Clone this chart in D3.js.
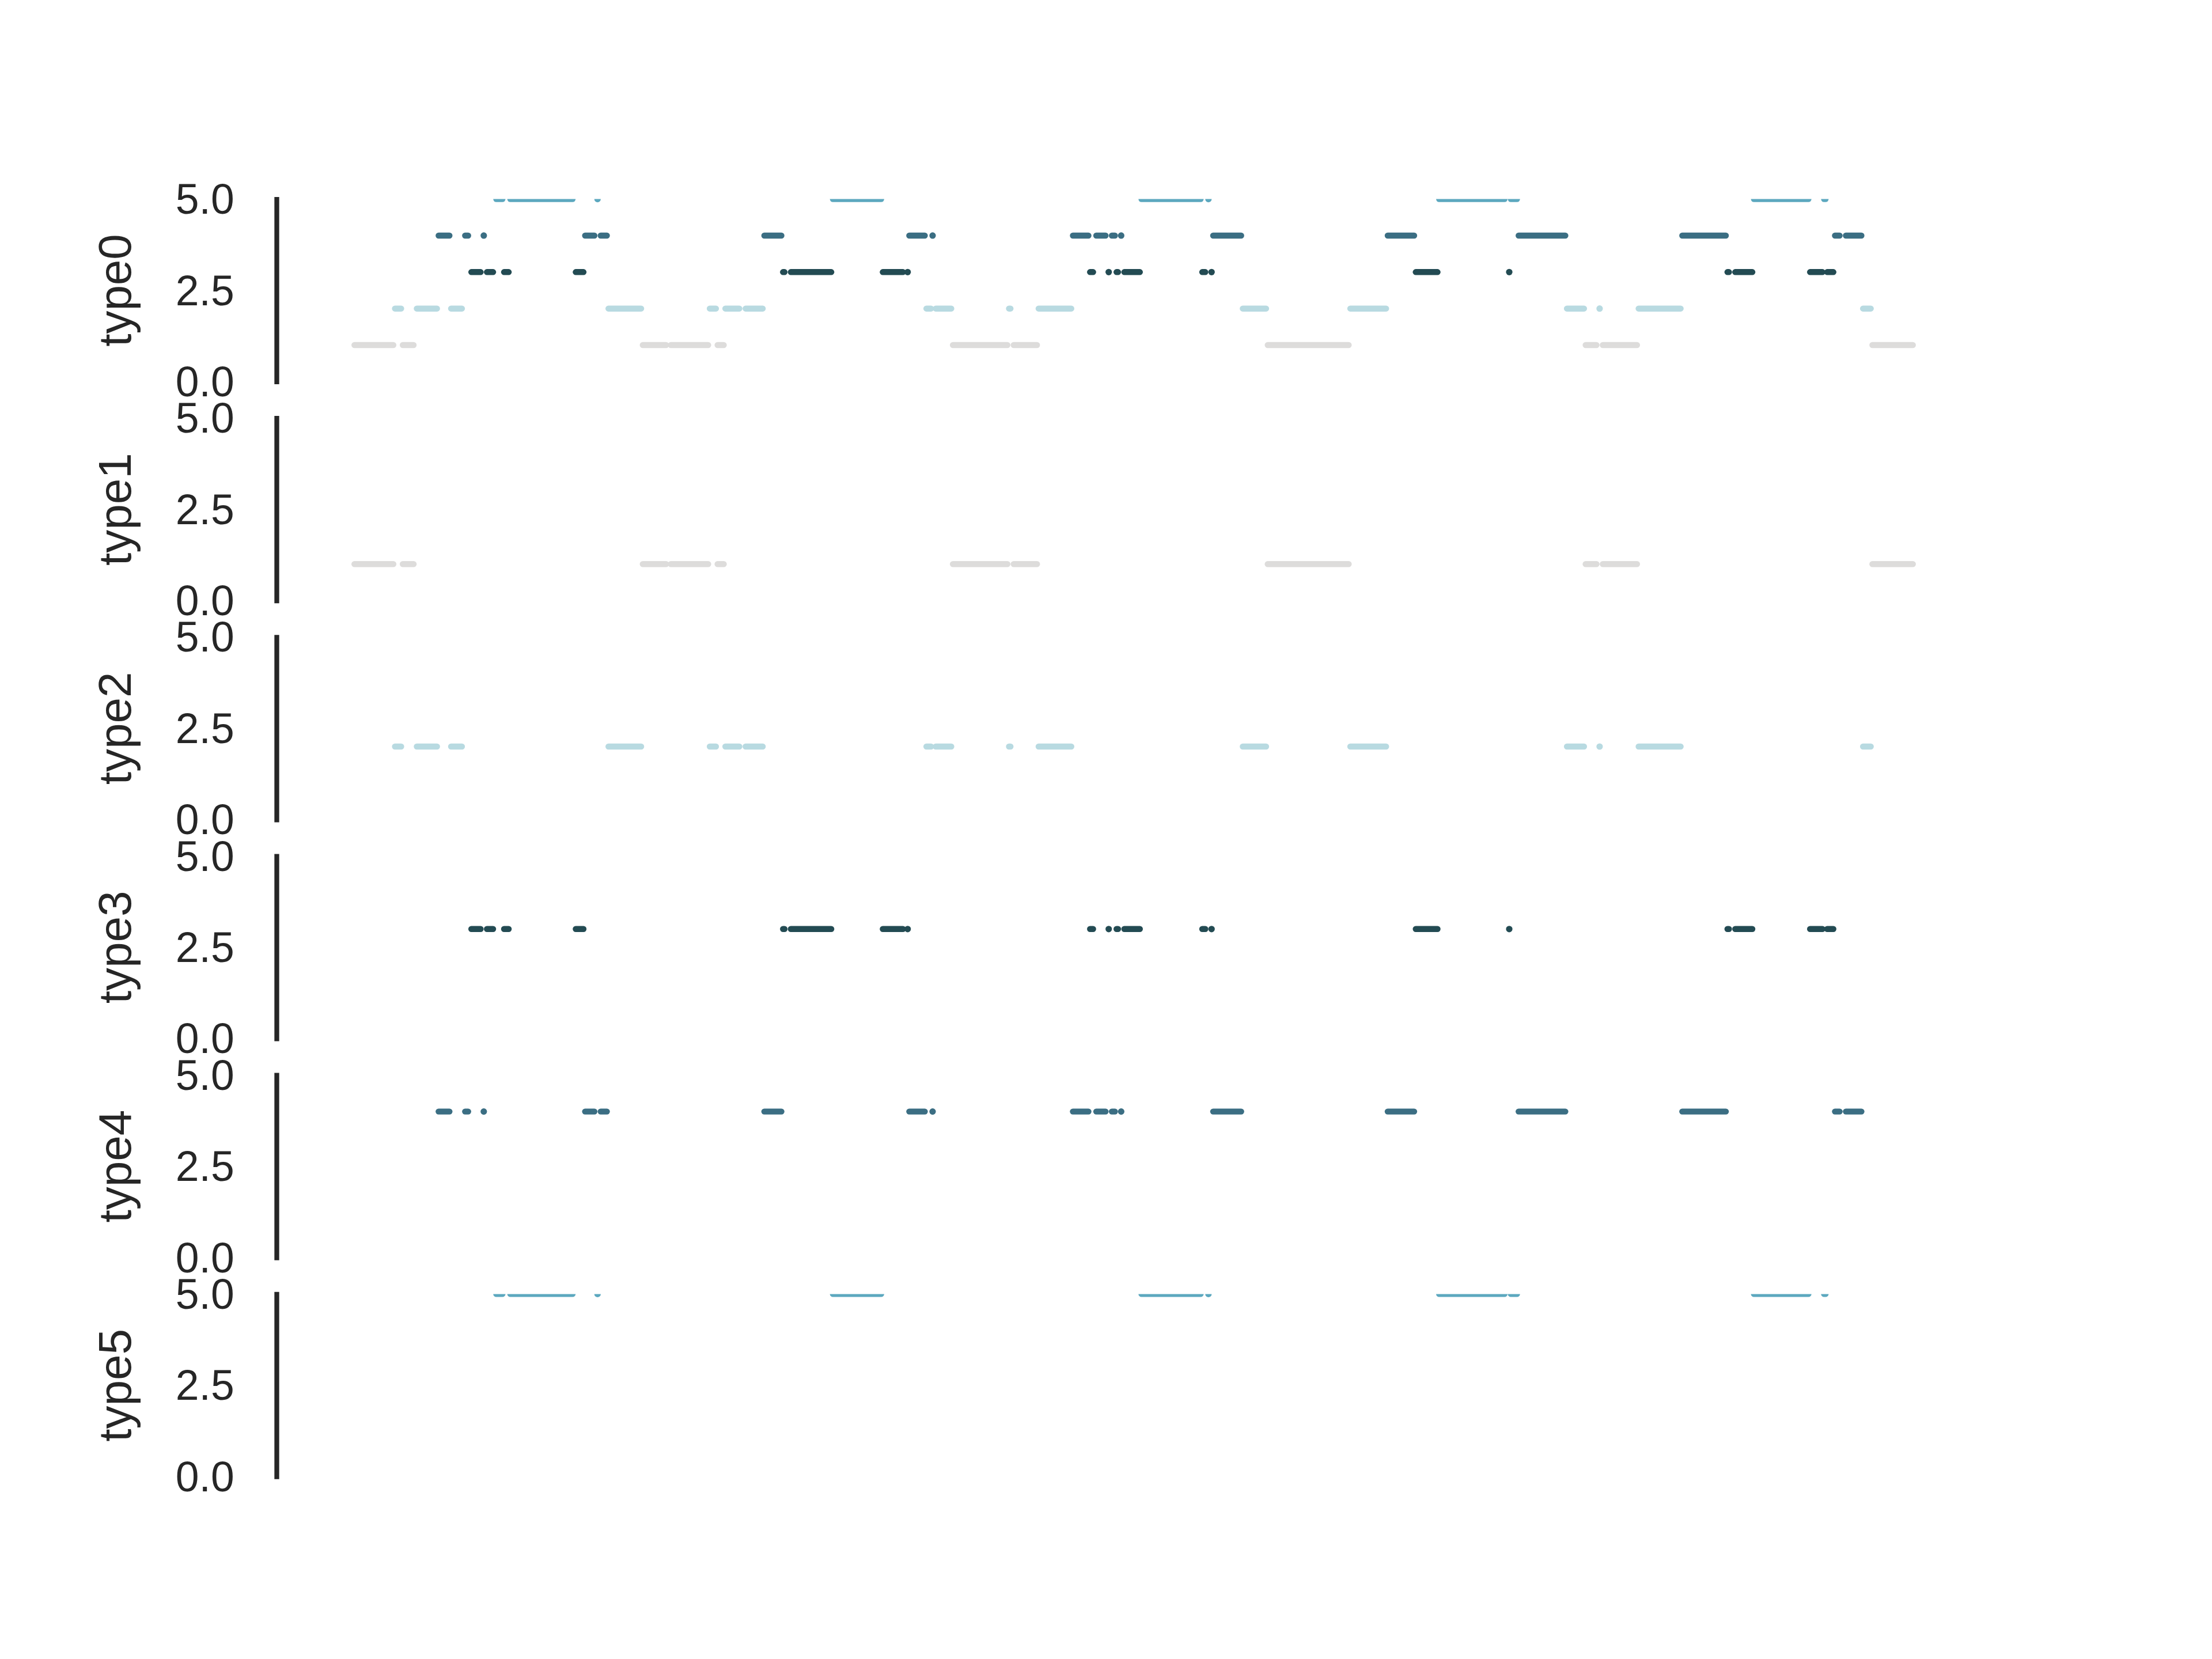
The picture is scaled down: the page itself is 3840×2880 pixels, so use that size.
<!DOCTYPE html>
<html>
<head>
<meta charset="utf-8">
<script src="https://cdn.jsdelivr.net/npm/d3@7"></script>
<style>
  html, body { margin: 0; padding: 0; background: #ffffff; }
  svg { display: block; }
</style>
</head>
<body>
<div id="chart"></div>
<script>
// ---------------- data ----------------
const panelNames = ["type0", "type1", "type2", "type3", "type4", "type5"];
const typeLevels = [1, 2, 3, 4, 5];           // value plotted for each type
const yTicks = [0, 2.5, 5];
const yDomain = [0, 5];
const timeExtent = [0, 1000];

// active intervals [start, end] (time index) for each type
const type1Segments = [[0,25],[31,38],[185,200],[203,227],[233,237],[384,419],[423,438],[586,638],[790,797],[801,823],[974,1000]];
const type2Segments = [[26,30],[40,53],[62,69],[163,184],[228,232],[238,247],[251,262],[367,370],[373,383],[420,421],[439,460],[570,585],[639,662],[778,789],[799,799],[824,851],[968,973]];
const type3Segments = [[75,81],[85,89],[96,99],[142,147],[275,276],[280,306],[339,352],[355,355],[472,474],[484,484],[489,490],[494,504],[544,546],[550,550],[681,695],[741,741],[881,882],[886,897],[934,942],[945,949]];
const type4Segments = [[54,61],[71,73],[83,83],[148,154],[158,162],[263,274],[356,366],[371,371],[461,471],[476,482],[486,488],[492,492],[551,569],[663,680],[747,777],[852,880],[950,953],[957,967]];
const type5Segments = [[91,95],[100,140],[156,156],[307,338],[505,543],[548,548],[696,738],[742,746],[898,933],[943,944]];

// ---------------- styles ----------------
const typeColors = ["#dddcdb", "#b8dae1", "#234b53", "#3b6e83", "#5ca8bf"];
const W = 3840, H = 2880;
const axLeft = 480, axRight = 3456, axTop = 345.6;
const panelH = 316.8, panelGap = 63.36;
const lineW = 10.4;
const textColor = "#262626";
const fontFamily = "'Liberation Sans', Arial, sans-serif";

const seriesByType = [type1Segments, type2Segments, type3Segments, type4Segments, type5Segments];

const svg = d3.select("#chart").append("svg")
  .attr("width", W).attr("height", H)
  .attr("viewBox", `0 0 ${W} ${H}`);
svg.append("rect").attr("width", W).attr("height", H).attr("fill", "#ffffff");

// x scale with 5% margins like matplotlib
const span = timeExtent[1] - timeExtent[0];
const x = d3.scaleLinear()
  .domain([timeExtent[0] - 0.05 * span, timeExtent[1] + 0.05 * span])
  .range([axLeft, axRight]);

panelNames.forEach((name, i) => {
  const top = axTop + i * (panelH + panelGap);
  const y = d3.scaleLinear().domain(yDomain).range([top + panelH, top]);
  const clipId = "clip" + i;
  svg.append("clipPath").attr("id", clipId)
    .append("rect")
    .attr("x", axLeft).attr("y", top)
    .attr("width", axRight - axLeft).attr("height", panelH);

  const g = svg.append("g").attr("clip-path", `url(#${clipId})`);

  // which types are shown in this panel
  const shown = i === 0 ? [0, 1, 2, 3, 4] : [i - 1];
  shown.forEach(t => {
    const segs = seriesByType[t];
    const level = typeLevels[t];
    const col = typeColors[t];
    const lines = segs.filter(s => s[1] > s[0]);
    const dots = segs.filter(s => s[1] <= s[0]);
    g.selectAll(null).data(lines).enter().append("line")
      .attr("x1", d => x(d[0])).attr("x2", d => x(d[1]))
      .attr("y1", y(level)).attr("y2", y(level))
      .attr("stroke", col).attr("stroke-width", lineW)
      .attr("stroke-linecap", "round");
    g.selectAll(null).data(dots).enter().append("circle")
      .attr("cx", d => x(d[0])).attr("cy", y(level))
      .attr("r", lineW / 2 + 0.4)
      .attr("fill", col);
  });

  // y axis
  const axis = d3.axisLeft(y)
    .tickValues(yTicks)
    .tickFormat(d3.format(".1f"))
    .tickSizeInner(0).tickSizeOuter(0)
    .tickPadding(73.3);
  const ag = svg.append("g").attr("transform", `translate(${axLeft},0)`).call(axis);
  ag.select(".domain")
    .attr("stroke", textColor).attr("stroke-width", 8.33)
    .attr("stroke-linecap", "square");
  ag.selectAll(".tick line").remove();
  ag.selectAll(".tick text")
    .attr("fill", textColor)
    .attr("font-family", fontFamily)
    .attr("font-size", 73.3)
    .attr("dy", null)
    .attr("dominant-baseline", "central");

  // y label
  svg.append("text")
    .attr("transform", `translate(227.3, ${top + panelH / 2}) rotate(-90)`)
    .attr("text-anchor", "middle")
    .attr("fill", textColor)
    .attr("font-family", fontFamily)
    .attr("font-size", 80)
    .text(name);
});
</script>
</body>
</html>
